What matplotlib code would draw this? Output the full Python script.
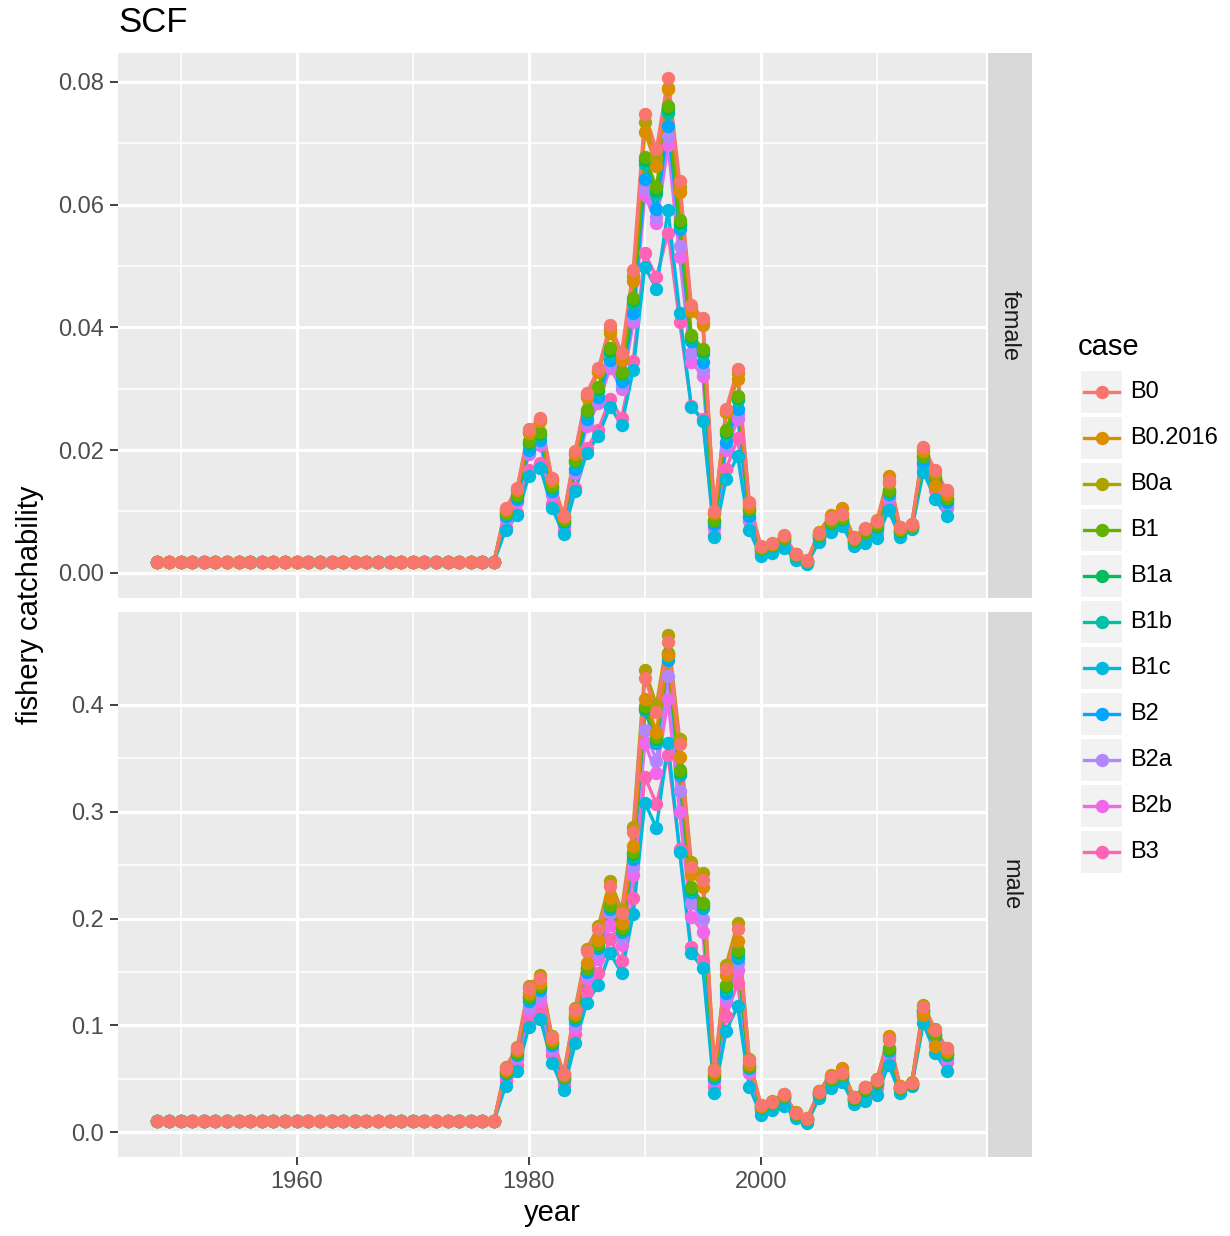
import matplotlib
matplotlib.use("Agg")
import matplotlib.pyplot as plt
from matplotlib.patches import Rectangle

plt.rcParams['font.family'] = ['Liberation Sans', 'DejaVu Sans']

# ---- data -------------------------------------------------------------
years = list(range(1948, 2017))
cases = ["B0", "B0.2016", "B0a", "B1", "B1a", "B1b", "B1c", "B2", "B2a", "B2b", "B3"]
colors = ["#F8766D", "#DB8E00", "#AEA200", "#64B200", "#00BD5C", "#00C1A7",
          "#00BADE", "#00A6FF", "#B385FF", "#EF67EB", "#FF63B6"]

# 1948-1977 values are flat in both panels
early_female = [0.0018] * 30
early_male = [0.0103] * 30

# female, 1978-2016
f_B0 = [0.0105, 0.0138, 0.0234, 0.0252, 0.0154, 0.0093, 0.0199, 0.0293, 0.0333, 0.0404,
        0.0359, 0.0494, 0.0747, 0.0690, 0.0806, 0.0638, 0.0437, 0.0415, 0.0100, 0.0267,
        0.0332, 0.0116, 0.0043, 0.0048, 0.0061, 0.0031, 0.0021, 0.0065, 0.0089, 0.0096,
        0.0057, 0.0073, 0.0085, 0.0150, 0.0074, 0.0080, 0.0205, 0.0168, 0.0135]
f_B0_2016 = [0.0102, 0.0135, 0.0228, 0.0247, 0.0150, 0.0091, 0.0194, 0.0287, 0.0327, 0.0391,
             0.0347, 0.0475, 0.0719, 0.0663, 0.0788, 0.0621, 0.0427, 0.0404, 0.0097, 0.0262,
             0.0316, 0.0109, 0.0042, 0.0047, 0.0060, 0.0030, 0.0020, 0.0066, 0.0094, 0.0105,
             0.0058, 0.0072, 0.0086, 0.0158, 0.0075, 0.0080, 0.0198, 0.0142, 0.0128]
f_B0a = [0.0103, 0.0136, 0.0230, 0.0249, 0.0152, 0.0092, 0.0196, 0.0289, 0.0329, 0.0397,
         0.0352, 0.0484, 0.0734, 0.0676, 0.0790, 0.0628, 0.0430, 0.0408, 0.0097, 0.0262,
         0.0325, 0.0113, 0.0042, 0.0047, 0.0060, 0.0030, 0.0020, 0.0064, 0.0087, 0.0094,
         0.0056, 0.0071, 0.0083, 0.0146, 0.0072, 0.0078, 0.0199, 0.0162, 0.0131]
f_B1 = [0.0098, 0.0127, 0.0214, 0.0229, 0.0141, 0.0086, 0.0184, 0.0266, 0.0303, 0.0366,
        0.0328, 0.0448, 0.0678, 0.0628, 0.0760, 0.0575, 0.0388, 0.0364, 0.0086, 0.0232,
        0.0288, 0.0104, 0.0040, 0.0045, 0.0057, 0.0029, 0.0019, 0.0061, 0.0083, 0.0089,
        0.0053, 0.0066, 0.0078, 0.0135, 0.0069, 0.0077, 0.0191, 0.0155, 0.0122]
f_B1a = [0.0097, 0.0126, 0.0212, 0.0227, 0.0140, 0.0085, 0.0182, 0.0264, 0.0300, 0.0362,
         0.0325, 0.0444, 0.0672, 0.0622, 0.0755, 0.0570, 0.0385, 0.0361, 0.0085, 0.0230,
         0.0285, 0.0103, 0.0040, 0.0045, 0.0057, 0.0029, 0.0019, 0.0061, 0.0082, 0.0088,
         0.0053, 0.0066, 0.0077, 0.0133, 0.0068, 0.0077, 0.0190, 0.0154, 0.0121]
f_B1b = [0.0096, 0.0125, 0.0210, 0.0225, 0.0139, 0.0084, 0.0180, 0.0261, 0.0297, 0.0358,
         0.0322, 0.0440, 0.0666, 0.0617, 0.0750, 0.0566, 0.0382, 0.0357, 0.0084, 0.0227,
         0.0282, 0.0102, 0.0039, 0.0044, 0.0056, 0.0028, 0.0019, 0.0060, 0.0081, 0.0087,
         0.0052, 0.0065, 0.0076, 0.0131, 0.0068, 0.0076, 0.0188, 0.0152, 0.0120]
f_B1c = [0.0070, 0.0094, 0.0158, 0.0171, 0.0105, 0.0064, 0.0134, 0.0196, 0.0223, 0.0271,
         0.0241, 0.0331, 0.0499, 0.0462, 0.0591, 0.0424, 0.0271, 0.0248, 0.0058, 0.0153,
         0.0190, 0.0069, 0.0027, 0.0033, 0.0041, 0.0021, 0.0015, 0.0051, 0.0067, 0.0077,
         0.0043, 0.0049, 0.0057, 0.0102, 0.0058, 0.0071, 0.0165, 0.0121, 0.0092]
f_B2 = [0.0092, 0.0120, 0.0200, 0.0216, 0.0133, 0.0081, 0.0169, 0.0250, 0.0286, 0.0346,
        0.0312, 0.0423, 0.0642, 0.0593, 0.0728, 0.0560, 0.0377, 0.0344, 0.0080, 0.0213,
        0.0267, 0.0092, 0.0037, 0.0043, 0.0054, 0.0027, 0.0018, 0.0058, 0.0078, 0.0085,
        0.0050, 0.0062, 0.0073, 0.0128, 0.0066, 0.0075, 0.0181, 0.0148, 0.0116]
f_B2a = [0.0090, 0.0118, 0.0196, 0.0212, 0.0130, 0.0079, 0.0165, 0.0245, 0.0281, 0.0340,
         0.0305, 0.0415, 0.0627, 0.0580, 0.0712, 0.0533, 0.0358, 0.0331, 0.0075, 0.0205,
         0.0258, 0.0089, 0.0036, 0.0042, 0.0053, 0.0026, 0.0018, 0.0057, 0.0076, 0.0083,
         0.0049, 0.0060, 0.0071, 0.0124, 0.0065, 0.0074, 0.0178, 0.0145, 0.0112]
f_B2b = [0.0088, 0.0116, 0.0193, 0.0208, 0.0127, 0.0077, 0.0162, 0.0240, 0.0276, 0.0334,
         0.0300, 0.0408, 0.0615, 0.0570, 0.0697, 0.0515, 0.0344, 0.0321, 0.0073, 0.0200,
         0.0250, 0.0087, 0.0035, 0.0041, 0.0052, 0.0026, 0.0017, 0.0056, 0.0075, 0.0082,
         0.0048, 0.0059, 0.0070, 0.0120, 0.0064, 0.0073, 0.0176, 0.0140, 0.0108]
f_B3 = [0.0075, 0.0098, 0.0168, 0.0179, 0.0112, 0.0068, 0.0138, 0.0203, 0.0233, 0.0284,
        0.0252, 0.0345, 0.0521, 0.0482, 0.0554, 0.0409, 0.0272, 0.0250, 0.0062, 0.0169,
        0.0219, 0.0084, 0.0031, 0.0037, 0.0048, 0.0024, 0.0016, 0.0054, 0.0072, 0.0080,
        0.0046, 0.0056, 0.0065, 0.0115, 0.0062, 0.0073, 0.0172, 0.0135, 0.0105]

# male, 1978-2016
m_B0 = [0.0597, 0.0784, 0.1346, 0.1440, 0.0887, 0.0540, 0.1143, 0.1699, 0.1899, 0.2304,
        0.2049, 0.2813, 0.4250, 0.3937, 0.4593, 0.3635, 0.2485, 0.2361, 0.0580, 0.1524,
        0.1899, 0.0674, 0.0253, 0.0284, 0.0356, 0.0181, 0.0128, 0.0378, 0.0512, 0.0550,
        0.0325, 0.0418, 0.0487, 0.0862, 0.0425, 0.0462, 0.1168, 0.0955, 0.0784]
m_B0_2016 = [0.0580, 0.0765, 0.1300, 0.1400, 0.0860, 0.0530, 0.1110, 0.1580, 0.1799, 0.2189,
             0.1955, 0.2680, 0.4056, 0.3750, 0.4468, 0.3516, 0.2420, 0.2298, 0.0560, 0.1470,
             0.1792, 0.0640, 0.0248, 0.0280, 0.0350, 0.0178, 0.0126, 0.0380, 0.0534, 0.0597,
             0.0330, 0.0420, 0.0492, 0.0899, 0.0430, 0.0460, 0.1096, 0.0806, 0.0760]
m_B0a = [0.0605, 0.0795, 0.1370, 0.1470, 0.0900, 0.0548, 0.1160, 0.1712, 0.1930, 0.2354,
         0.2080, 0.2860, 0.4328, 0.4000, 0.4656, 0.3679, 0.2532, 0.2423, 0.0590, 0.1564,
         0.1955, 0.0685, 0.0256, 0.0287, 0.0360, 0.0183, 0.0129, 0.0382, 0.0518, 0.0556,
         0.0328, 0.0422, 0.0492, 0.0870, 0.0430, 0.0466, 0.1190, 0.0965, 0.0788]
m_B1 = [0.0565, 0.0745, 0.1270, 0.1370, 0.0840, 0.0515, 0.1085, 0.1540, 0.1760, 0.2130,
        0.1910, 0.2620, 0.3990, 0.3697, 0.4484, 0.3391, 0.2292, 0.2148, 0.0535, 0.1377,
        0.1705, 0.0620, 0.0238, 0.0270, 0.0340, 0.0172, 0.0122, 0.0365, 0.0495, 0.0535,
        0.0315, 0.0400, 0.0465, 0.0784, 0.0415, 0.0455, 0.1140, 0.0915, 0.0740]
m_B1a = [0.0562, 0.0740, 0.1262, 0.1362, 0.0835, 0.0512, 0.1078, 0.1532, 0.1750, 0.2120,
         0.1900, 0.2605, 0.3975, 0.3680, 0.4480, 0.3375, 0.2280, 0.2135, 0.0530, 0.1365,
         0.1690, 0.0615, 0.0236, 0.0268, 0.0338, 0.0171, 0.0121, 0.0363, 0.0492, 0.0532,
         0.0313, 0.0397, 0.0462, 0.0778, 0.0413, 0.0453, 0.1135, 0.0910, 0.0735]
m_B1b = [0.0558, 0.0735, 0.1255, 0.1355, 0.0830, 0.0508, 0.1070, 0.1525, 0.1740, 0.2110,
         0.1890, 0.2590, 0.3965, 0.3665, 0.4460, 0.3360, 0.2270, 0.2120, 0.0522, 0.1340,
         0.1670, 0.0610, 0.0234, 0.0266, 0.0335, 0.0170, 0.0120, 0.0360, 0.0490, 0.0530,
         0.0311, 0.0394, 0.0459, 0.0770, 0.0412, 0.0452, 0.1130, 0.0905, 0.0730]
m_B1c = [0.0431, 0.0574, 0.0980, 0.1056, 0.0650, 0.0393, 0.0830, 0.1212, 0.1377, 0.1680,
         0.1486, 0.2042, 0.3085, 0.2850, 0.3647, 0.2620, 0.1674, 0.1533, 0.0362, 0.0946,
         0.1180, 0.0424, 0.0159, 0.0206, 0.0248, 0.0130, 0.0087, 0.0316, 0.0409, 0.0471,
         0.0262, 0.0293, 0.0347, 0.0628, 0.0362, 0.0431, 0.1018, 0.0743, 0.0574]
m_B2 = [0.0545, 0.0720, 0.1230, 0.1330, 0.0815, 0.0500, 0.1050, 0.1500, 0.1720, 0.2090,
        0.1870, 0.2560, 0.3953, 0.3640, 0.4420, 0.3340, 0.2250, 0.2100, 0.0510, 0.1305,
        0.1633, 0.0600, 0.0230, 0.0262, 0.0330, 0.0168, 0.0118, 0.0358, 0.0485, 0.0525,
        0.0308, 0.0390, 0.0455, 0.0760, 0.0410, 0.0450, 0.1120, 0.0895, 0.0720]
m_B2a = [0.0530, 0.0700, 0.1170, 0.1270, 0.0790, 0.0485, 0.1010, 0.1471, 0.1674, 0.2049,
         0.1814, 0.2485, 0.3766, 0.3478, 0.4272, 0.3194, 0.2142, 0.1993, 0.0490, 0.1268,
         0.1580, 0.0580, 0.0222, 0.0255, 0.0322, 0.0163, 0.0114, 0.0352, 0.0475, 0.0515,
         0.0300, 0.0380, 0.0445, 0.0740, 0.0405, 0.0447, 0.1110, 0.0880, 0.0690]
m_B2b = [0.0515, 0.0680, 0.1130, 0.1230, 0.0765, 0.0470, 0.0970, 0.1430, 0.1620, 0.1940,
         0.1750, 0.2407, 0.3641, 0.3360, 0.4053, 0.2995, 0.2017, 0.1876, 0.0475, 0.1220,
         0.1520, 0.0565, 0.0215, 0.0250, 0.0315, 0.0160, 0.0110, 0.0345, 0.0465, 0.0505,
         0.0295, 0.0370, 0.0430, 0.0720, 0.0400, 0.0445, 0.1100, 0.0870, 0.0680]
m_B3 = [0.0480, 0.0630, 0.1050, 0.1130, 0.0720, 0.0440, 0.0920, 0.1315, 0.1487, 0.1805,
        0.1605, 0.2195, 0.3329, 0.3070, 0.3532, 0.2650, 0.1730, 0.1605, 0.0420, 0.1087,
        0.1399, 0.0550, 0.0200, 0.0240, 0.0300, 0.0155, 0.0105, 0.0340, 0.0455, 0.0495,
        0.0290, 0.0355, 0.0410, 0.0700, 0.0395, 0.0440, 0.1080, 0.0850, 0.0660]

female = [f_B0, f_B0_2016, f_B0a, f_B1, f_B1a, f_B1b, f_B1c, f_B2, f_B2a, f_B2b, f_B3]
male = [m_B0, m_B0_2016, m_B0a, m_B1, m_B1a, m_B1b, m_B1c, m_B2, m_B2a, m_B2b, m_B3]

# ---- figure -----------------------------------------------------------
W, H = 1230, 1236
fig = plt.figure(figsize=(W / 100, H / 100), dpi=100)
fig.patch.set_facecolor("white")

TICK_FS = 17
TITLE_FS = 21


def px_axes(x0, y0, x1, y1):
    """axes from pixel box (top-left origin)"""
    return fig.add_axes([x0 / W, 1 - y1 / H, (x1 - x0) / W, (y1 - y0) / H])


def style_panel(ax, ylim, yticks, ylabels, show_x):
    ax.set_facecolor("#EBEBEB")
    for s in ax.spines.values():
        s.set_visible(False)
    ax.set_xlim(1944.6, 2019.4)
    ax.set_ylim(*ylim)
    ax.set_xticks([1960, 1980, 2000])
    ax.set_xticks([1950, 1970, 1990, 2010], minor=True)
    ax.set_yticks(yticks)
    ax.set_yticks([(a + b) / 2 for a, b in zip(yticks[:-1], yticks[1:])], minor=True)
    ax.set_yticklabels(ylabels)
    ax.grid(which="major", color="white", linewidth=2.3)
    ax.grid(which="minor", color="white", linewidth=1.1)
    ax.set_axisbelow(True)
    ax.tick_params(axis="y", which="major", length=6, width=1.3, color="#333333",
                   labelsize=TICK_FS, labelcolor="#4D4D4D", pad=4)
    ax.tick_params(axis="x", which="major", length=6 if show_x else 0, width=1.3,
                   color="#333333", labelsize=TICK_FS, labelcolor="#4D4D4D", pad=4,
                   labelbottom=show_x)
    ax.tick_params(which="minor", length=0)


def draw_series(ax, vals, early):
    order = list(range(len(cases)))[::-1]  # B0 ends on top
    for i in order:
        ax.plot(years, early + vals[i], color=colors[i], lw=2.4, zorder=2)
    for i in order:
        ax.plot(years, early + vals[i], ls="none", marker="o", ms=8.6,
                color=colors[i], mec=colors[i], zorder=3)


def strip(y0, y1, label):
    sa = px_axes(988, y0, 1032, y1)
    sa.set_facecolor("#D9D9D9")
    sa.set_xticks([])
    sa.set_yticks([])
    for s in sa.spines.values():
        s.set_visible(False)
    sa.text(0.5, 0.5, label, rotation=-90, ha="center", va="center",
            fontsize=TICK_FS, color="#1A1A1A", transform=sa.transAxes)


ax1 = px_axes(118, 53, 986, 598)
draw_series(ax1, female, early_female)
style_panel(ax1, (-0.0041, 0.0847), [0.0, 0.02, 0.04, 0.06, 0.08],
            ["0.00", "0.02", "0.04", "0.06", "0.08"], False)
strip(53, 598, "female")

ax2 = px_axes(118, 612, 986, 1157)
draw_series(ax2, male, early_male)
style_panel(ax2, (-0.0234, 0.4871), [0.0, 0.1, 0.2, 0.3, 0.4],
            ["0.0", "0.1", "0.2", "0.3", "0.4"], True)
strip(612, 1157, "male")

fig.text(118 / W, 1 - 22 / H, "SCF", fontsize=25, ha="left", va="center")
fig.text(30 / W, 1 - 605 / H, "fishery catchability", fontsize=TITLE_FS,
         rotation=90, ha="center", va="center")
fig.text(552 / W, 1 - 1213 / H, "year", fontsize=TITLE_FS, ha="center", va="center")

# ---- legend -----------------------------------------------------------
lg = px_axes(1070, 325, 1230, 880)
lg.set_xlim(1070, 1230)
lg.set_ylim(880, 325)
lg.axis("off")
lg.text(1078, 347, "case", fontsize=TITLE_FS, ha="left", va="center")
for i, name in enumerate(cases):
    cy = 392 + i * 46
    lg.add_patch(Rectangle((1080, cy - 22), 43, 44, facecolor="#F2F2F2",
                           edgecolor="white", lw=1.5))
    lg.plot([1084, 1119], [cy, cy], color=colors[i], lw=2.4)
    lg.plot([1101.5], [cy], marker="o", ms=8.6, color=colors[i])
    lg.text(1130, cy, name, fontsize=TICK_FS, ha="left", va="center")

fig.savefig("out.png", dpi=100)
